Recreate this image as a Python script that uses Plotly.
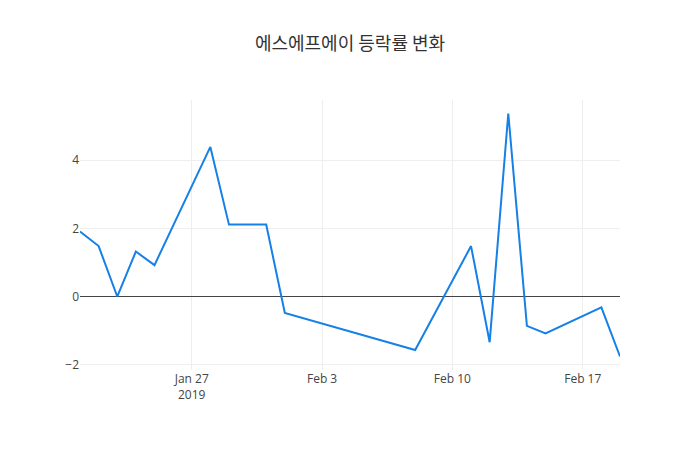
import plotly.graph_objects as go

dates = ["2019-01-21", "2019-01-22", "2019-01-23", "2019-01-24", "2019-01-25",
         "2019-01-28", "2019-01-29", "2019-01-31", "2019-02-01", "2019-02-08",
         "2019-02-11", "2019-02-12", "2019-02-13", "2019-02-14", "2019-02-15",
         "2019-02-18", "2019-02-19"]
change_pct = [1.91, 1.48, 0.0, 1.32, 0.92,
              4.39, 2.11, 2.11, -0.48, -1.57,
              1.48, -1.34, 5.37, -0.86, -1.08,
              -0.32, -1.76]
title = "에스에프에이 등락률 변화"

fig = go.Figure(go.Scatter(x=dates, y=change_pct, mode="lines",
                           line=dict(color="#1580e6", width=2)))
fig.update_layout(
    template="none",
    width=700, height=450,
    title=dict(text=title, x=0.5, xanchor="center",
               font=dict(family="Noto Sans CJK KR", size=18, color="#333")),
    font=dict(family="Open Sans", size=12, color="#444"),
    margin=dict(l=80, r=80, t=100, b=80),
    paper_bgcolor="white", plot_bgcolor="white",
)
fig.update_xaxes(showgrid=True, gridcolor="#eee", zeroline=False, showline=False,
                 ticks="")
fig.update_yaxes(showgrid=True, gridcolor="#eee", zeroline=True, zerolinecolor="#444",
                 zerolinewidth=1, showline=False, ticks="", dtick=2)
fig.write_html("out.html")
